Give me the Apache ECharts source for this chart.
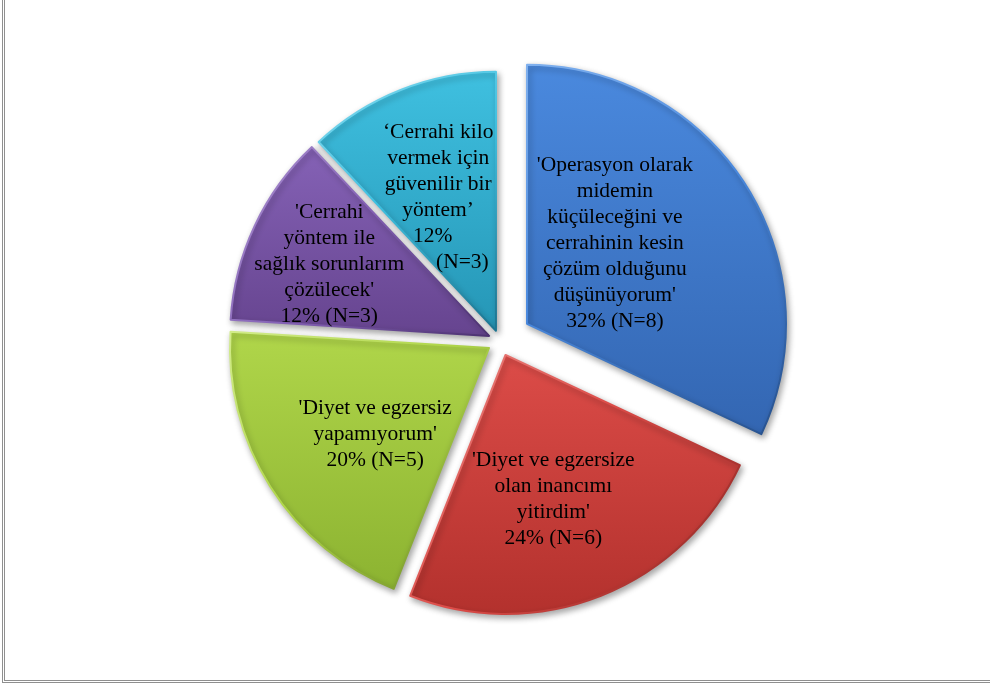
<!DOCTYPE html>
<html>
<head>
<meta charset="utf-8">
<script src="https://cdn.jsdelivr.net/npm/echarts@6/dist/echarts.min.js"></script>
<style>
  html, body { margin: 0; padding: 0; background: #ffffff; }
  #wrap { position: relative; width: 990px; height: 691px; overflow: hidden; }
  #chart { position: absolute; left: 0; top: 0; width: 990px; height: 691px; }
  #frame {
    position: absolute; left: 2px; top: -4px; width: 1000px; height: 687px;
    border-left: 3px double #8f8f8f; border-bottom: 3px double #8f8f8f;
    box-sizing: border-box; pointer-events: none;
  }
</style>
</head>
<body>
<div id="wrap">
  <div id="chart"></div>
  <div id="frame"></div>
</div>
<script>
// Survey answers (reasons for choosing surgery), clockwise from the top
const statements = [
  "'Operasyon olarak\nmidemin\nküçüleceğini ve\ncerrahinin kesin\nçözüm olduğunu\ndüşünüyorum'",
  "'Diyet ve egzersize\nolan inancımı\nyitirdim'",
  "'Diyet ve egzersiz\nyapamıyorum'",
  "'Cerrahi\nyöntem ile\nsağlık sorunlarım\nçözülecek'",
  "‘Cerrahi kilo\nvermek için\ngüvenilir bir\nyöntem’"
];
const counts = [8, 6, 5, 3, 3];
const percents = [32, 24, 20, 12, 12];

// Styling: slice gradients (light top, dark bottom), bevel edges, explode distances, label nudges
const topColors = ['#4a89de', '#dc4c48', '#b0d64a', '#8562b6', '#3fc0e0'];
const bottomColors = ['#3366b2', '#b3312d', '#8cb331', '#66448f', '#2596b6'];
const edgeLight = ['#7fb0ee', '#ec8c88', '#d2ec8a', '#ad94d2', '#8adcf0'];
const edgeDark = ['#26508c', '#88221f', '#6c8a26', '#4c3170', '#1c7490'];
const explode = [32, 15, 13, 12, 11];
const labelNudge = [[-24, -9], [-1, 21], [-2, 15], [-40, -15], [-9, -10]];
const baseCenter = [500, 341];
const pieRadius = 259;

const FONT = 'Liberation Serif';

function labelText(i) {
  const pct = percents[i] + '%';
  const n = '(N=' + counts[i] + ')';
  if (i === 4) {
    // narrow slice: the value wraps, with the count pushed to the right
    return statements[i] + '\n' + pct + '\u00a0\u00a0\n' + '\u00a0'.repeat(9) + n;
  }
  return statements[i] + '\n' + pct + ' ' + n;
}

// mid angle of each slice, measured clockwise from 12 o'clock
const total = counts.reduce(function (a, b) { return a + b; }, 0);
const midAngles = [];
(function () {
  let acc = 0;
  counts.forEach(function (v) {
    midAngles.push((acc + v / 2) / total * 2 * Math.PI);
    acc += v;
  });
})();

// one pie layer per slice, each shifted outwards along its own bisector
const sliceSeries = counts.map(function (_, k) {
  const cx = baseCenter[0] + explode[k] * Math.sin(midAngles[k]);
  const cy = baseCenter[1] - explode[k] * Math.cos(midAngles[k]);
  return {
    type: 'pie',
    center: [cx, cy],
    radius: [0, pieRadius],
    startAngle: 90,
    clockwise: true,
    silent: true,
    emphasis: { disabled: true },
    animation: false,
    labelLine: { show: false },
    labelLayout: { hideOverlap: false },
    avoidLabelOverlap: false,
    z: 2,
    label: {
      show: false,
      position: 'inside',
      fontFamily: FONT,
      fontSize: 21.5,
      lineHeight: 26,
      color: '#000000',
      align: 'center'
    },
    data: counts.map(function (v, i) {
      const visible = i === k;
      return {
        name: statements[i],
        value: v,
        itemStyle: visible ? {
          color: new echarts.graphic.LinearGradient(0, 0, 0, 1, [
            { offset: 0, color: topColors[i] },
            { offset: 1, color: bottomColors[i] }
          ]),
          borderColor: new echarts.graphic.LinearGradient(0, 0, 1, 1, [
            { offset: 0, color: edgeLight[i] },
            { offset: 0.45, color: topColors[i] },
            { offset: 1, color: edgeDark[i] }
          ]),
          borderWidth: 2,
          borderJoin: 'round',
          shadowColor: 'rgba(0,0,0,0.35)',
          shadowBlur: 6,
          shadowOffsetX: 2,
          shadowOffsetY: 3
        } : { color: 'rgba(0,0,0,0)', borderWidth: 0, shadowBlur: 0 },
        label: visible ? {
          show: true,
          formatter: labelText(i),
          offset: labelNudge[i]
        } : { show: false }
      };
    })
  };
});

const chart = echarts.init(document.getElementById('chart'), null, { renderer: 'canvas' });
chart.setOption({
  backgroundColor: '#ffffff',
  animation: false,
  tooltip: { show: false },
  series: sliceSeries
});
</script>
</body>
</html>
